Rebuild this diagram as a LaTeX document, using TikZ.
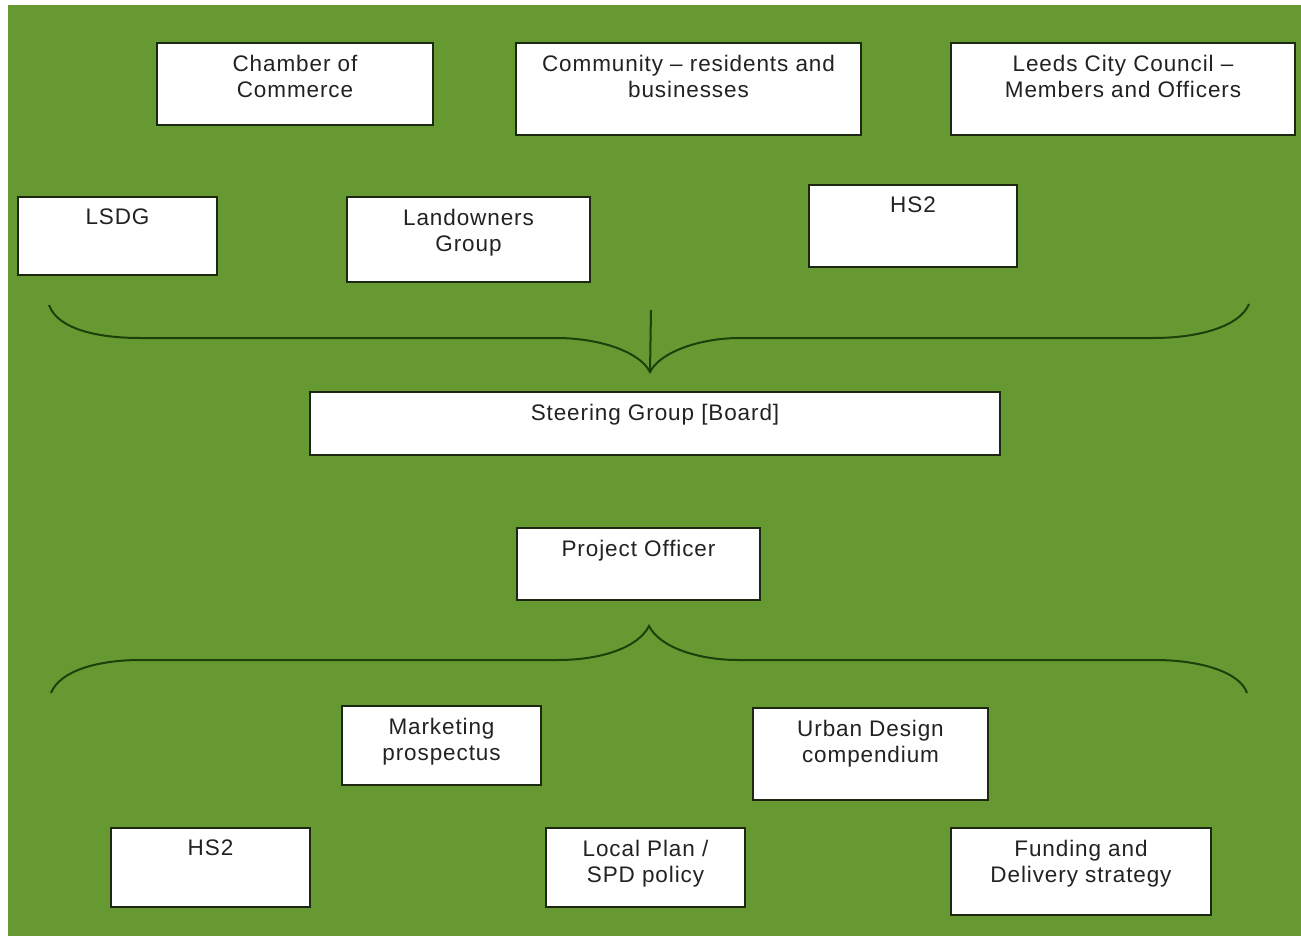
\documentclass[tikz,border=0pt]{standalone}
\usepackage{fontspec}
\newfontfamily\boxfont{Liberation Sans}[LetterSpace=4]
\definecolor{bggreen}{RGB}{103,153,51}
\definecolor{boxline}{RGB}{28,40,18}
\definecolor{braceline}{RGB}{28,64,10}
\definecolor{txtcol}{RGB}{34,34,34}
\newcommand\orgbox[6]{%
  \node[orgrect, minimum width={#4pt-#2pt}, minimum height={#5pt-#3pt}] (#1) at (#2,#3) {};
  \node[orgtxt] (#1-t) at ([yshift=-12pt]#1.north) {#6};}
\begin{document}
\begin{tikzpicture}[x=1pt,y=-1pt,
  orgrect/.style={draw=boxline, line width=1.8pt, fill=white, inner sep=0pt, outer sep=0pt, anchor=north west},
  orgtxt/.style={anchor=north, inner sep=0pt, align=center, text=txtcol, font=\boxfont\fontsize{22.5}{25.5}\selectfont},
  bracestyle/.style={draw=braceline, line width=2pt}]
\useasboundingbox (0,0) rectangle (1301,936);
\fill[bggreen] (8,5) rectangle (1301,936);

\orgbox{cc}{157}{43}{433}{125}{Chamber of\\Commerce}
\orgbox{com}{516}{43}{861}{135}{Community – residents and\\businesses}
\orgbox{lcc}{951}{43}{1295}{135}{Leeds City Council –\\Members and Officers}
\orgbox{lsdg}{18}{197}{217}{275}{LSDG}
\orgbox{land}{347}{197}{590}{282}{Landowners\\Group}
\orgbox{hsa}{809}{185}{1017}{267}{HS2}
\orgbox{steer}{310}{392}{1000}{455}{Steering Group [Board]}
\orgbox{po}{517}{528}{760}{600}{Project Officer}
\orgbox{mkt}{342}{706}{541}{785}{Marketing\\prospectus}
\orgbox{udc}{753}{708}{988}{800}{Urban Design\\compendium}
\orgbox{hsb}{111}{828}{310}{907}{HS2}
\orgbox{lp}{546}{828}{745}{907}{Local Plan /\\SPD policy}
\orgbox{fund}{951}{828}{1211}{915}{Funding and\\Delivery strategy}

% top brace
\coordinate (tb-l) at (49,305);
\coordinate (tb-tip) at (650,372);
\coordinate (tb-r) at (1249,304);
\coordinate (tb-top) at (651,310);
\path[bracestyle] (tb-l) .. controls (58,330) and (100,338) .. (140,338)
  -- (556,338) .. controls (600,338) and (640,352) .. (tb-tip)
  .. controls (660,352) and (700,338) .. (740,338)
  -- (1153,338) .. controls (1200,338) and (1240,326) .. (tb-r);
\draw[bracestyle] (tb-top) -- (tb-tip);

% bottom brace
\coordinate (bb-l) at (51,693);
\coordinate (bb-tip) at (649,626);
\coordinate (bb-r) at (1247,693);
\path[bracestyle] (bb-l) .. controls (60,670) and (100,660) .. (140,660)
  -- (558,660) .. controls (600,660) and (638,648) .. (bb-tip)
  .. controls (660,648) and (700,660) .. (738,660)
  -- (1155,660) .. controls (1200,660) and (1240,672) .. (bb-r);
\end{tikzpicture}
\end{document}
